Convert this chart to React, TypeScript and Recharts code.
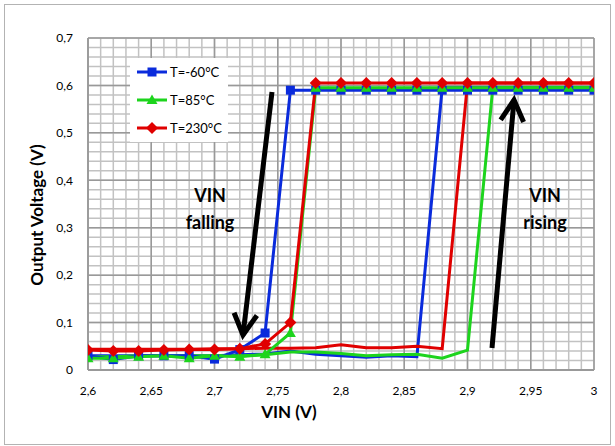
import React from "react";
import {
  LineChart,
  Line,
  XAxis,
  YAxis,
  CartesianGrid,
} from "recharts";

// VIN sweep points (V)
const vin = [
  2.6, 2.62, 2.64, 2.66, 2.68, 2.7, 2.72, 2.74, 2.76, 2.78, 2.8,
  2.82, 2.84, 2.86, 2.88, 2.9, 2.92, 2.94, 2.96, 2.98, 3.0,
];

// VIN falling (with markers)
const blueFall = [
  0.03, 0.022, 0.03, 0.03, 0.03, 0.023, 0.043, 0.078, 0.59, 0.59, 0.59,
  0.59, 0.59, 0.59, 0.59, 0.59, 0.59, 0.59, 0.59, 0.59, 0.59,
];
const greenFall = [
  0.025, 0.025, 0.028, 0.03, 0.025, 0.03, 0.028, 0.033, 0.078, 0.595, 0.595,
  0.595, 0.595, 0.595, 0.595, 0.595, 0.595, 0.595, 0.595, 0.595, 0.595,
];
const redFall = [
  0.042, 0.04, 0.04, 0.042, 0.043, 0.043, 0.045, 0.055, 0.1, 0.605, 0.605,
  0.605, 0.605, 0.605, 0.605, 0.605, 0.605, 0.605, 0.605, 0.605, 0.605,
];

// VIN rising (line only)
const blueRise = [
  0.03, 0.03, 0.03, 0.03, 0.03, 0.03, 0.032, 0.034, 0.04, 0.033, 0.03,
  0.027, 0.03, 0.028, 0.595, 0.595, 0.595, 0.595, 0.595, 0.595, 0.595,
];
const greenRise = [
  0.028, 0.028, 0.03, 0.03, 0.03, 0.03, 0.03, 0.032, 0.038, 0.038, 0.035,
  0.03, 0.032, 0.033, 0.025, 0.042, 0.595, 0.595, 0.595, 0.595, 0.595,
];
const redRise = [
  0.044, 0.044, 0.044, 0.044, 0.044, 0.045, 0.045, 0.046, 0.046, 0.047, 0.053,
  0.047, 0.047, 0.05, 0.045, 0.605, 0.605, 0.605, 0.605, 0.605, 0.605,
];

const seriesNames = ["T=-60°C", "T=85°C", "T=230°C"];
const xTicks = [2.6, 2.65, 2.7, 2.75, 2.8, 2.85, 2.9, 2.95, 3];
const yTicks = [0, 0.1, 0.2, 0.3, 0.4, 0.5, 0.6, 0.7];
const X_MIN = 2.6;
const X_MAX = 3;
const Y_MAX = 0.7;

const BLUE = "#0A2BDC";
const GREEN = "#1DD41D";
const RED = "#E00000";
const FONT = "Lato, 'Open Sans', sans-serif";
const MAJOR = "#999999";
const MINOR = "#c2c2c2";

// chart box
const W = 615;
const H = 446;
const MARGIN = { top: 38, right: 21, left: 0, bottom: 26 };
const Y_AXIS_W = 88;
const X_AXIS_H = 50;
const PLOT_L = MARGIN.left + Y_AXIS_W;
const PLOT_T = MARGIN.top;
const PLOT_W = W - PLOT_L - MARGIN.right;
const PLOT_H = H - MARGIN.top - MARGIN.bottom - X_AXIS_H;

// fine grid steps: 0.01 V on x, 0.02 V on y
const gridX = Array.from({ length: 41 }, (_, i) => X_MIN + i * 0.01);
const gridY = Array.from({ length: 36 }, (_, i) => i * 0.02);
const px = (v: number) => PLOT_L + (PLOT_W * (v - X_MIN)) / (X_MAX - X_MIN);
const py = (v: number) => PLOT_T + PLOT_H * (1 - v / Y_MAX);

const toPoints = (ys: number[]) => vin.map((x, i) => ({ x, y: ys[i] }));

const square = (color: string) => (p: any) => (
  <rect key={p.index} x={p.cx - 4.5} y={p.cy - 4.5} width={9} height={9} fill={color} />
);
const triangle = (color: string) => (p: any) => (
  <polygon
    key={p.index}
    points={`${p.cx},${p.cy - 5.5} ${p.cx + 5.5},${p.cy + 4} ${p.cx - 5.5},${p.cy + 4}`}
    fill={color}
  />
);
const diamond = (color: string) => (p: any) => (
  <polygon
    key={p.index}
    points={`${p.cx},${p.cy - 6} ${p.cx + 6},${p.cy} ${p.cx},${p.cy + 6} ${p.cx - 6},${p.cy}`}
    fill={color}
  />
);

const legendColors = [BLUE, GREEN, RED];
const legendShapes = [square, triangle, diamond];

// light grid drawn beneath the (transparent) chart surface
const FineGrid = () => (
  <svg width={W} height={H} style={{ position: "absolute", left: 0, top: 0 }}>
    {gridX.map((v) => (
      <line key={`v${v}`} x1={px(v)} x2={px(v)} y1={PLOT_T} y2={PLOT_T + PLOT_H} stroke={MINOR} strokeWidth={1.5} />
    ))}
    {gridY.map((v) => (
      <line key={`h${v}`} x1={PLOT_L} x2={PLOT_L + PLOT_W} y1={py(v)} y2={py(v)} stroke={MINOR} strokeWidth={1.5} />
    ))}
  </svg>
);

const LegendBox = () => (
  <div
    style={{
      position: "absolute",
      left: 130,
      top: 58,
      background: "#fff",
      width: 98,
      height: 84,
      fontFamily: FONT,
    }}
  >
    <svg width={98} height={84}>
      {seriesNames.map((name, i) => {
        const cy = 14 + i * 28;
        return (
          <g key={name}>
            <line x1={7} x2={37} y1={cy} y2={cy} stroke={legendColors[i]} strokeWidth={3} />
            {legendShapes[i](legendColors[i])({ cx: 22, cy, index: i })}
            <text x={40} y={cy} dy="0.35em" fontSize={13} fill="#000">
              {name}
            </text>
          </g>
        );
      })}
    </svg>
  </div>
);

const Arrow = ({ x1, y1, x2, y2 }: { x1: number; y1: number; x2: number; y2: number }) => {
  const a = Math.atan2(y2 - y1, x2 - x1);
  const len = 24;
  const spread = 0.5;
  const ax = x2 - len * Math.cos(a - spread);
  const ay = y2 - len * Math.sin(a - spread);
  const bx = x2 - len * Math.cos(a + spread);
  const by = y2 - len * Math.sin(a + spread);
  return (
    <g stroke="#000" strokeWidth={5} fill="none" strokeLinecap="butt" strokeLinejoin="miter">
      <line x1={x1} y1={y1} x2={x2} y2={y2} />
      <polyline points={`${ax},${ay} ${x2},${y2} ${bx},${by}`} />
    </g>
  );
};

export default function App() {
  const fmt = (v: number) => String(v).replace(".", ",");
  return (
    <div style={{ position: "absolute", left: 0, top: 0, width: W, height: H, background: "#fff" }}>
      <FineGrid />
      <LineChart width={W} height={H} margin={MARGIN}>
        <CartesianGrid stroke={MAJOR} strokeWidth={1.5} />
        <XAxis
          dataKey="x"
          type="number"
          domain={[X_MIN, X_MAX]}
          ticks={xTicks}
          tickFormatter={fmt}
          height={X_AXIS_H}
          tickLine={false}
          tickSize={6}
          tickMargin={10}
          axisLine={{ stroke: MAJOR, strokeWidth: 2 }}
          tick={{ fontSize: 12, fill: "#000", fontFamily: FONT }}
          allowDataOverflow
        />
        <YAxis
          type="number"
          domain={[0, Y_MAX]}
          ticks={yTicks}
          tickFormatter={fmt}
          width={Y_AXIS_W}
          tickLine={false}
          tickSize={6}
          tickMargin={9}
          axisLine={{ stroke: MAJOR, strokeWidth: 1.5 }}
          tick={{ fontSize: 12, fill: "#000", fontFamily: FONT }}
        />
        <Line data={toPoints(blueRise)} dataKey="y" stroke={BLUE} strokeWidth={3} dot={false} legendType="none" isAnimationActive={false} />
        <Line data={toPoints(greenRise)} dataKey="y" stroke={GREEN} strokeWidth={3} dot={false} legendType="none" isAnimationActive={false} />
        <Line data={toPoints(redRise)} dataKey="y" stroke={RED} strokeWidth={3} dot={false} legendType="none" isAnimationActive={false} />
        <Line data={toPoints(blueFall)} dataKey="y" name={seriesNames[0]} stroke={BLUE} strokeWidth={3} dot={square(BLUE)} isAnimationActive={false} />
        <Line data={toPoints(greenFall)} dataKey="y" name={seriesNames[1]} stroke={GREEN} strokeWidth={3} dot={triangle(GREEN)} isAnimationActive={false} />
        <Line data={toPoints(redFall)} dataKey="y" name={seriesNames[2]} stroke={RED} strokeWidth={3} dot={diamond(RED)} isAnimationActive={false} />
      </LineChart>
      <LegendBox />
      <svg
        width={W}
        height={H}
        style={{ position: "absolute", left: 0, top: 0, pointerEvents: "none", fontFamily: FONT }}
      >
        <rect x={4.5} y={4.5} width={606} height={440} fill="none" stroke="#b3b3b3" />
        <Arrow x1={272} y1={92} x2={243} y2={335} />
        <Arrow x1={492} y1={348} x2={514} y2={100} />
        <g fontWeight="bold" fontSize={18} textAnchor="middle" fill="#000">
          <text x={210} y={202}>VIN</text>
          <text x={210} y={229}>falling</text>
          <text x={545} y={202}>VIN</text>
          <text x={545} y={229}>rising</text>
        </g>
        <text x={289} y={418} fontWeight="bold" fontSize={17} textAnchor="middle">VIN (V)</text>
        <text
          x={0}
          y={0}
          transform="translate(43,215) rotate(-90)"
          fontWeight="bold"
          fontSize={17}
          textAnchor="middle"
        >
          Output Voltage (V)
        </text>
      </svg>
    </div>
  );
}
